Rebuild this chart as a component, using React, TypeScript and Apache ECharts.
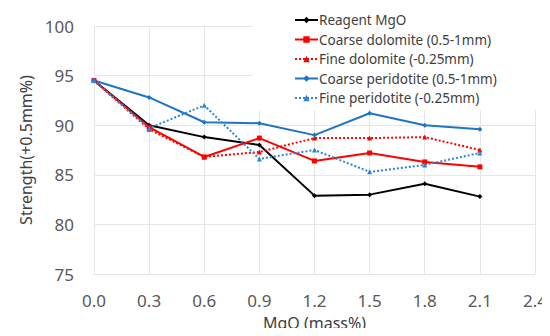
import React, { useEffect, useRef } from "react";
import * as echarts from "echarts";

const xValues = [0.0, 0.3, 0.6, 0.9, 1.2, 1.5, 1.8, 2.1];
const reagentMgO = [94.5, 90.0, 88.8, 88.0, 82.9, 83.0, 84.1, 82.8];
const coarseDolomite = [94.5, 89.8, 86.8, 88.7, 86.4, 87.2, 86.3, 85.8];
const fineDolomite = [94.5, 89.6, 86.8, 87.3, 88.7, 88.7, 88.8, 87.5];
const coarsePeridotite = [94.5, 92.8, 90.3, 90.2, 89.0, 91.2, 90.0, 89.6];
const finePeridotite = [94.5, 89.7, 92.0, 86.6, 87.5, 85.3, 86.0, 87.2];

const seriesNames = [
  "Reagent MgO",
  "Coarse dolomite (0.5-1mm)",
  "Fine dolomite (-0.25mm)",
  "Coarse peridotite (0.5-1mm)",
  "Fine peridotite (-0.25mm)",
];

const FONT = "'Noto Sans', sans-serif";

export default function App() {
  const ref = useRef<HTMLDivElement>(null);
  useEffect(() => {
    if (!ref.current) return;
    const chart = echarts.init(ref.current, null, { renderer: "svg" });
    const pair = (arr: number[]) => xValues.map((x, i) => [x, arr[i]]);
    const mk = (
      name: string,
      data: number[],
      color: string,
      type: string,
      symbol: string
    ) => ({
      name,
      type: "line",
      data: pair(data),
      symbol,
      symbolSize: 5,
      itemStyle: { color },
      lineStyle: { color, width: 2, type },
    });
    chart.setOption({
      animation: false,
      textStyle: { fontFamily: FONT },
      grid: { left: 94, right: 14, top: 26, bottom: 61, containLabel: false },
      legend: {
        orient: "vertical",
        left: 253,
        top: 0,
        padding: [13, 40, 5, 41],
        backgroundColor: "#ffffff",
        itemWidth: 23,
        itemHeight: 8,
        itemGap: 5.5,
        textStyle: { fontSize: 13.5, color: "#404040", fontFamily: FONT, lineHeight: 14, padding: [0, 0, 0, -4] },
        data: seriesNames,
      },
      xAxis: {
        type: "value",
        min: 0,
        max: 2.4,
        interval: 0.3,
        name: "MgO (mass%)",
        nameLocation: "middle",
        nameGap: 41,
        nameTextStyle: { fontSize: 16, color: "#404040" },
        axisLine: { show: true, lineStyle: { color: "#e6e6e6" } },
        axisTick: { show: false },
        splitLine: { show: true, lineStyle: { color: "#e6e6e6" } },
        axisLabel: {
          fontSize: 17,
          color: "#595959",
          margin: 18,
          formatter: (v: number) => v.toFixed(1),
        },
      },
      yAxis: {
        type: "value",
        min: 75,
        max: 100,
        interval: 5,
        name: "Strength(+0.5mm%)",
        nameLocation: "middle",
        nameGap: 58,
        nameTextStyle: { fontSize: 16, color: "#404040" },
        axisLine: { show: true, lineStyle: { color: "#e6e6e6" } },
        axisTick: { show: false },
        splitLine: { show: true, lineStyle: { color: "#e6e6e6" } },
        axisLabel: { fontSize: 17, color: "#595959", margin: 20 },
      },
      series: [
        mk(seriesNames[0], reagentMgO, "#000000", "solid", "diamond"),
        mk(seriesNames[1], coarseDolomite, "#ff0000", "solid", "rect"),
        mk(seriesNames[2], fineDolomite, "#ff0000", "dotted", "triangle"),
        mk(seriesNames[3], coarsePeridotite, "#1f74c4", "solid", "diamond"),
        mk(seriesNames[4], finePeridotite, "#2b86d6", "dotted", "triangle"),
      ],
    });
    return () => chart.dispose();
  }, []);
  return <div ref={ref} style={{ width: 550, height: 336, margin: -8 }} />;
}
